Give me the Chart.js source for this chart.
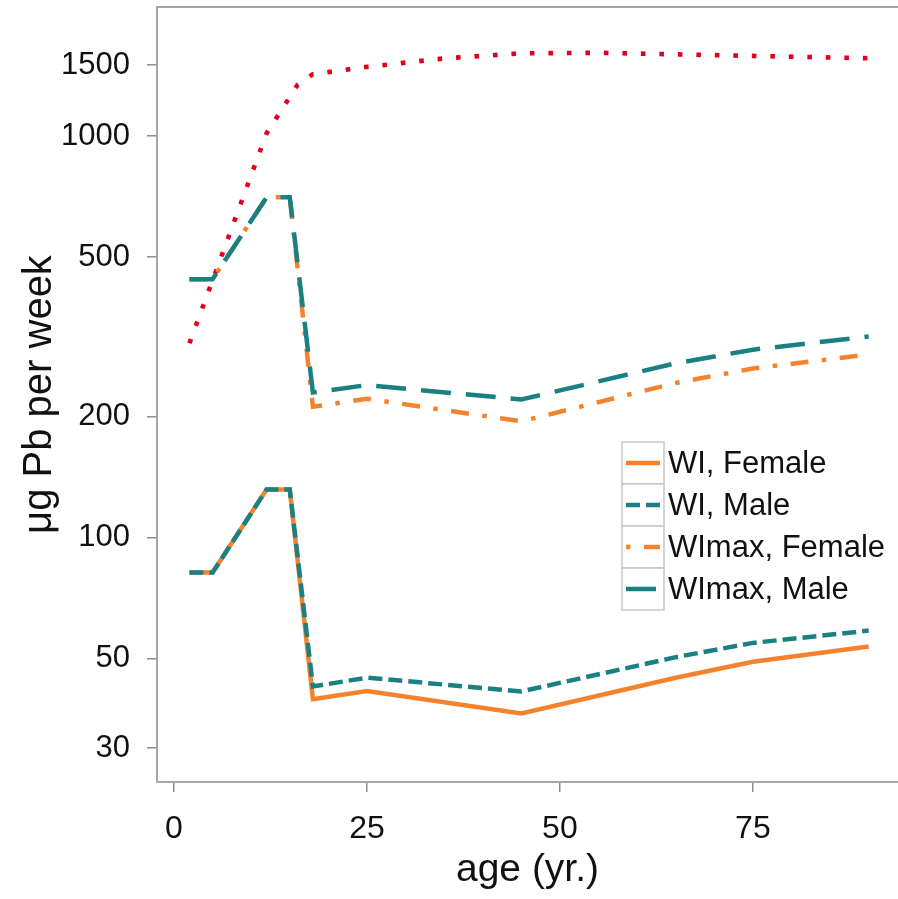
<!DOCTYPE html>
<html>
<head>
<meta charset="utf-8">
<script src="https://cdn.jsdelivr.net/npm/chart.js@4/dist/chart.umd.min.js"></script>
<style>
  html, body { margin: 0; padding: 0; background: #fff; }
  canvas { display: block; }
</style>
</head>
<body>
<canvas id="leadChart" width="898" height="899"></canvas>
<script>
// ages (yr.) at which the intake curves are given
const ages = [2, 5, 12, 15, 18, 25, 45, 65, 75, 90];
const wiFemale = [82, 82, 132, 132, 39.7, 41.6, 36.6, 44.9, 49.2, 53.7];
const wiMale = [82, 82, 132, 132, 42.7, 44.9, 41.5, 50.5, 54.8, 58.8];
const wimaxFemale = [440, 440, 704, 704, 212, 222, 195, 243, 264, 286];
const wimaxMale = [440, 440, 704, 704, 230, 240, 221, 272, 294, 317];

// red dotted reference curve
const limitAges = [2, 12, 16, 18, 25, 35, 45, 55, 90];
const limitValues = [305, 1016, 1340, 1425, 1486, 1560, 1606, 1611, 1561];

const xTicks = [0, 25, 50, 75];
const yTicks = [30, 50, 100, 200, 500, 1000, 1500];
const legendLabels = ['WI, Female', 'WI, Male', 'WImax, Female', 'WImax, Male'];

const colors = {
    orange: '#f5822c',
    teal: '#1b8081',
    red: '#e0001e',
    axis: '#a6a6a6',
    text: '#111111'
};
const FONT = "'Liberation Sans', Arial, Helvetica, sans-serif";

function toPoints(xs, ys) {
    return xs.map((x, i) => ({ x: x, y: ys[i] }));
}

function lineSet(label, values, color, dash, order) {
    return {
        label: label,
        data: toPoints(ages, values),
        borderColor: color,
        backgroundColor: color,
        borderWidth: 4.5,
        borderDash: dash,
        borderCapStyle: 'butt',
        pointRadius: 0,
        fill: false,
        tension: 0,
        order: order
    };
}

// top frame line (left and bottom come from the axis borders)
const framePlugin = {
    id: 'frame',
    beforeDatasetsDraw(chart) {
        const { ctx, chartArea } = chart;
        ctx.save();
        ctx.strokeStyle = colors.axis;
        ctx.lineWidth = 2;
        ctx.beginPath();
        ctx.moveTo(chartArea.left, chartArea.top);
        ctx.lineTo(chartArea.right, chartArea.top);
        ctx.stroke();
        ctx.restore();
    }
};

// legend with a framed key for each series
const keyLegendPlugin = {
    id: 'keyLegend',
    afterDatasetsDraw(chart) {
        const { ctx } = chart;
        const boxX = 622, boxTop = 442, box = 42;
        const dashOffsets = [0, 0, 31.5, 0];
        ctx.save();
        legendLabels.forEach((label, i) => {
            const ds = chart.data.datasets[i];
            const y0 = boxTop + i * box;
            ctx.fillStyle = '#fff';
            ctx.fillRect(boxX, y0, box, box);
            ctx.strokeStyle = '#c8c8c8';
            ctx.lineWidth = 1.5;
            ctx.setLineDash([]);
            ctx.strokeRect(boxX, y0, box, box);

            ctx.strokeStyle = ds.borderColor;
            ctx.lineWidth = ds.borderWidth;
            ctx.lineCap = 'butt';
            ctx.setLineDash(ds.borderDash || []);
            ctx.lineDashOffset = dashOffsets[i];
            ctx.beginPath();
            ctx.moveTo(boxX + 4, y0 + box / 2);
            ctx.lineTo(boxX + box - 4, y0 + box / 2);
            ctx.stroke();

            ctx.setLineDash([]);
            ctx.lineDashOffset = 0;
            ctx.fillStyle = colors.text;
            ctx.font = '31px ' + FONT;
            ctx.textAlign = 'left';
            ctx.textBaseline = 'middle';
            ctx.fillText(label, boxX + box + 4, y0 + box / 2 + 1);
        });
        ctx.restore();
    }
};

new Chart(document.getElementById('leadChart'), {
    type: 'line',
    data: {
        datasets: [
            lineSet(legendLabels[0], wiFemale, colors.orange, [], 3),
            lineSet(legendLabels[1], wiMale, colors.teal, [14, 6], 2),
            lineSet(legendLabels[2], wimaxFemale, colors.orange, [18, 13.5, 4.5, 13.5], 3),
            lineSet(legendLabels[3], wimaxMale, colors.teal, [30, 15], 2),
            {
                label: 'limit',
                data: toPoints(limitAges, limitValues),
                borderColor: colors.red,
                borderWidth: 4.6,
                borderDash: [4.6, 13.9],
                borderCapStyle: 'butt',
                pointRadius: 0,
                fill: false,
                tension: 0,
                order: 4
            }
        ]
    },
    options: {
        responsive: false,
        animation: false,
        devicePixelRatio: 1,
        layout: { padding: { top: 7, right: 0, left: 0, bottom: 0 } },
        plugins: {
            legend: { display: false },
            tooltip: { enabled: false }
        },
        scales: {
            x: {
                type: 'linear',
                min: -2.2,
                max: 93.8,
                afterBuildTicks: scale => { scale.ticks = xTicks.map(v => ({ value: v })); },
                afterFit: scale => {
                    scale.height = 117;
                    scale.paddingLeft = 0;
                    scale.paddingRight = 0;
                },
                border: { display: true, color: colors.axis, width: 2 },
                grid: { display: true, drawOnChartArea: false, drawTicks: true, tickLength: 10, color: '#8c8c8c', lineWidth: 1.5 },
                ticks: {
                    padding: 18,
                    color: colors.text,
                    font: { family: FONT, size: 32 },
                    maxRotation: 0,
                    callback: v => String(v)
                },
                title: {
                    display: true,
                    text: 'age (yr.)',
                    color: colors.text,
                    font: { family: FONT, size: 39 },
                    padding: { top: 0, bottom: 5 }
                }
            },
            y: {
                type: 'logarithmic',
                min: 24.7,
                max: 2094,
                afterBuildTicks: scale => { scale.ticks = yTicks.map(v => ({ value: v })); },
                afterFit: scale => {
                    scale.width = 157;
                    scale.paddingTop = 0;
                    scale.paddingBottom = 0;
                },
                border: { display: true, color: colors.axis, width: 2 },
                grid: { display: true, drawOnChartArea: false, drawTicks: true, tickLength: 10, color: '#8c8c8c', lineWidth: 1.5 },
                ticks: {
                    padding: 17,
                    color: colors.text,
                    font: { family: FONT, size: 31 },
                    callback: v => String(v)
                },
                title: {
                    display: true,
                    text: 'μg Pb per week',
                    color: colors.text,
                    font: { family: FONT, size: 40 },
                    padding: { top: 16, bottom: 0 }
                }
            }
        }
    },
    plugins: [framePlugin, keyLegendPlugin]
});
</script>
</body>
</html>
